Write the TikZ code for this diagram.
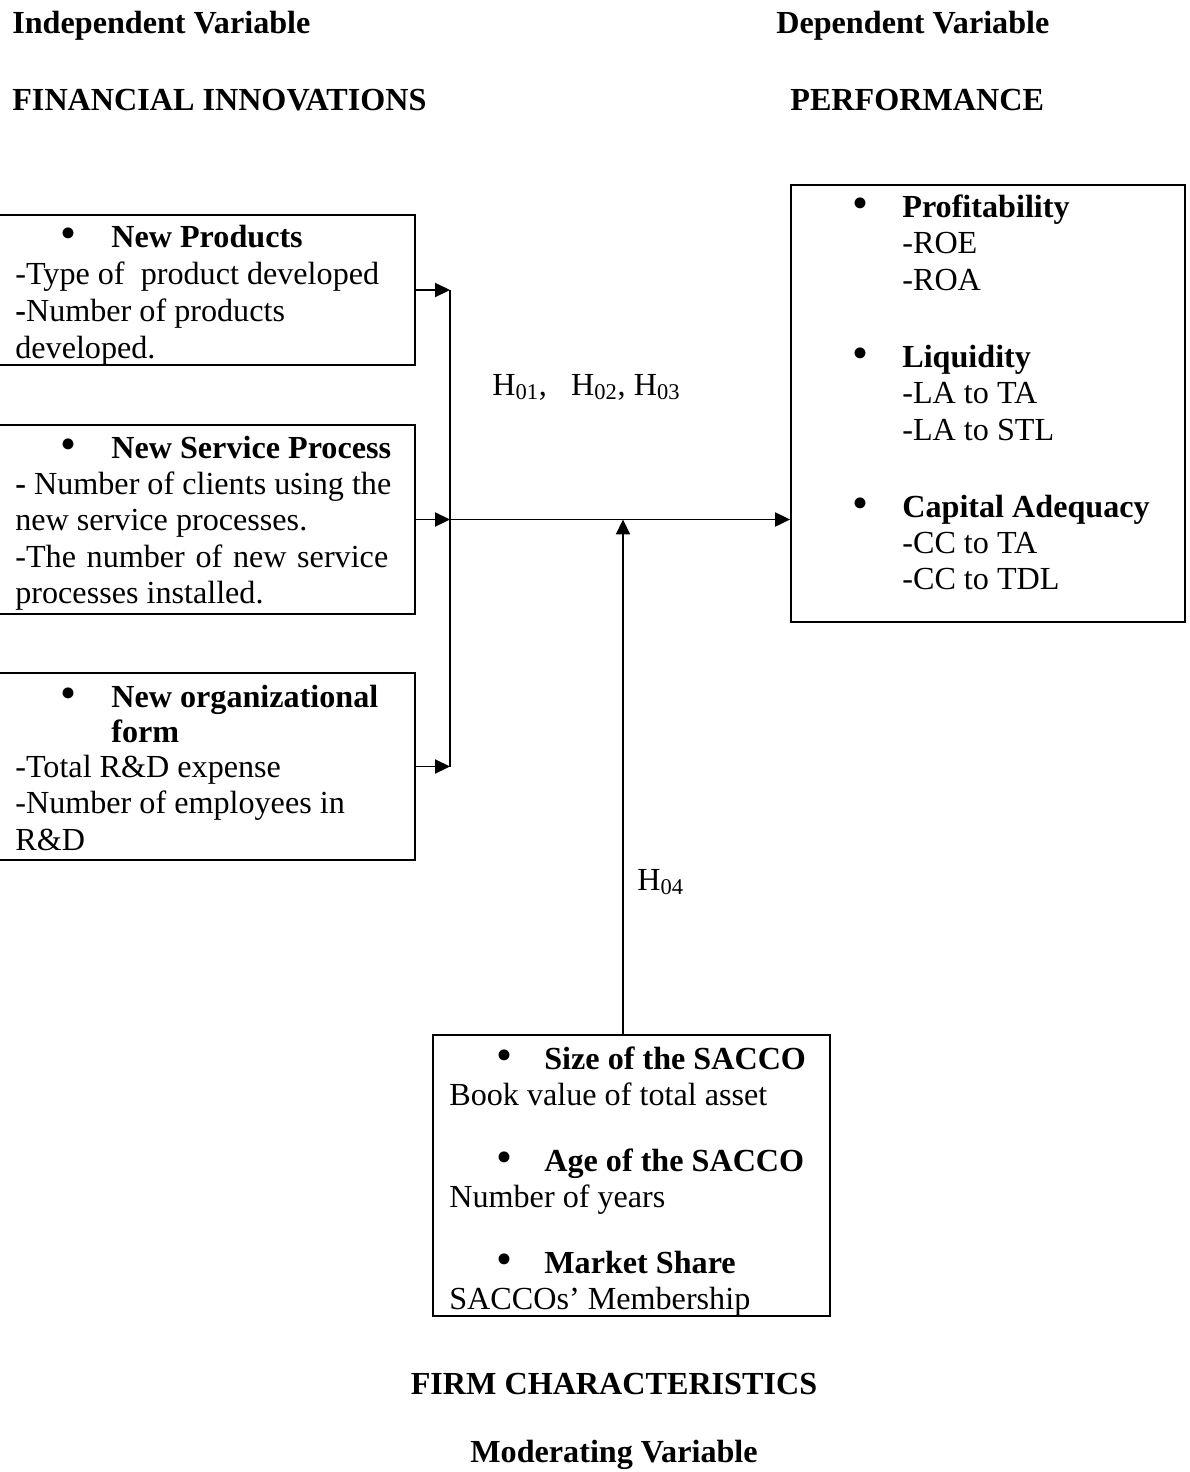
\documentclass[tikz,border=0pt]{standalone}
\usepackage{fontspec}
\setmainfont{Liberation Serif}
\usetikzlibrary{arrows.meta, positioning}

\newcommand{\bodyfs}{\fontsize{18.3}{21}\selectfont}

\tikzset{
  box/.style={draw=black, line width=1.1pt, inner sep=0pt},
  txt/.style={anchor=base west, inner sep=0pt, text=black, font=\bodyfs},
  ttl/.style={anchor=base west, inner sep=0pt, text=black, font=\bodyfs\bfseries},
  dot/.style={anchor=center, yshift=5pt, inner sep=0pt, text=black, font=\fontsize{26}{26}\selectfont},
  link/.style={black, line width=1pt, -{Triangle[length=8.5pt, width=8pt]}},
  bus/.style={black, line width=0.8pt}
}

\begin{document}
\begin{tikzpicture}[x=0.02cm, y=-0.02cm]
\useasboundingbox (0,0) rectangle (1190,1472);

% headings
\node[ttl] (indep) at (12,33) {Independent Variable};
\node[ttl] (dep) at (776,33) {Dependent Variable};
\node[ttl] (fin) at (12,110) {FINANCIAL INNOVATIONS};
\node[ttl] (perfttl) at (790,110) {PERFORMANCE};

% independent variable boxes
\node[box, minimum width=8.9cm, minimum height=3.0cm] (prod) at (192.5,290) {};
\node[dot] at (68,247) {\textbullet};
\node[ttl] at (111,247) {New Products};
\node[txt] at (15,284) {-Type of\ \ product developed};
\node[txt] at (15,321) {\textbf{-}Number of products};
\node[txt] at (15,358) {developed.};

\node[box, minimum width=8.9cm, minimum height=3.78cm] (serv) at (192.5,519.5) {};
\node[dot] at (68,458) {\textbullet};
\node[ttl] at (111,458) {New Service Process};
\node[txt] at (15,494) {\textbf{-} Number of clients using the};
\node[txt] at (15,530) {new service processes.};
\node[txt] at (15,567) {\makebox[7.46cm][s]{-The number of new service}};
\node[txt] at (15,603) {processes installed.};

\node[box, minimum width=8.9cm, minimum height=3.74cm] (org) at (192.5,766.5) {};
\node[dot] at (68,707) {\textbullet};
\node[ttl] at (111,707) {New organizational};
\node[ttl] at (111,742) {form};
\node[txt] at (15,777) {-Total R\&D expense};
\node[txt] at (15,813) {-Number of employees in};
\node[txt] at (15,850) {R\&D};

% dependent variable box
\node[box, minimum width=7.88cm, minimum height=8.74cm] (perf) at (988,403.5) {};
\node[dot] at (860,217) {\textbullet};
\node[ttl] at (902,217) {Profitability};
\node[txt] at (902,253) {-ROE};
\node[txt] at (902,290) {-ROA};
\node[dot] at (860,367) {\textbullet};
\node[ttl] at (902,367) {Liquidity};
\node[txt] at (902,403) {-LA to TA};
\node[txt] at (902,440) {-LA to STL};
\node[dot] at (860,517) {\textbullet};
\node[ttl] at (902,517) {Capital Adequacy};
\node[txt] at (902,553) {-CC to TA};
\node[txt] at (902,589) {-CC to TDL};

% moderating variable box
\node[box, minimum width=7.94cm, minimum height=5.62cm] (firm) at (631.5,1175.5) {};
\node[dot] at (504,1069) {\textbullet};
\node[ttl] at (544,1069) {Size of the SACCO};
\node[txt] at (449,1105) {Book value of total asset};
\node[dot] at (504,1171) {\textbullet};
\node[ttl] at (544,1171) {Age of the SACCO};
\node[txt] at (449,1207) {Number of years};
\node[dot] at (504,1273) {\textbullet};
\node[ttl] at (544,1273) {Market Share};
\node[txt] at (449,1309) {SACCOs’ Membership};

\node[anchor=base, inner sep=0pt, font=\bodyfs\bfseries] (firmttl) at (614,1394) {FIRM CHARACTERISTICS};
\node[anchor=base, inner sep=0pt, font=\bodyfs\bfseries] (modttl) at (614,1462) {Moderating Variable};

% hypotheses
\node[txt] (hyp) at (492,395) {H\textsubscript{01},\ \ \ H\textsubscript{02}, H\textsubscript{03}};
\node[txt] (hypmod) at (637,890) {H\textsubscript{04}};

% connectors
\coordinate (bus) at (450,0);
\coordinate (up) at (623,0);
\draw[link] (prod.east) -- (prod.east -| bus);
\draw[link] (serv.east) -- (serv.east -| bus);
\draw[link] (org.east) -- (org.east -| bus);
\draw[bus] (prod.east -| bus) -- (org.east -| bus);
\draw[link] (serv.east -| bus) -- (serv.east -| perf.west);
\draw[link] (firm.north -| up) -- (serv.east -| up);

\end{tikzpicture}
\end{document}
